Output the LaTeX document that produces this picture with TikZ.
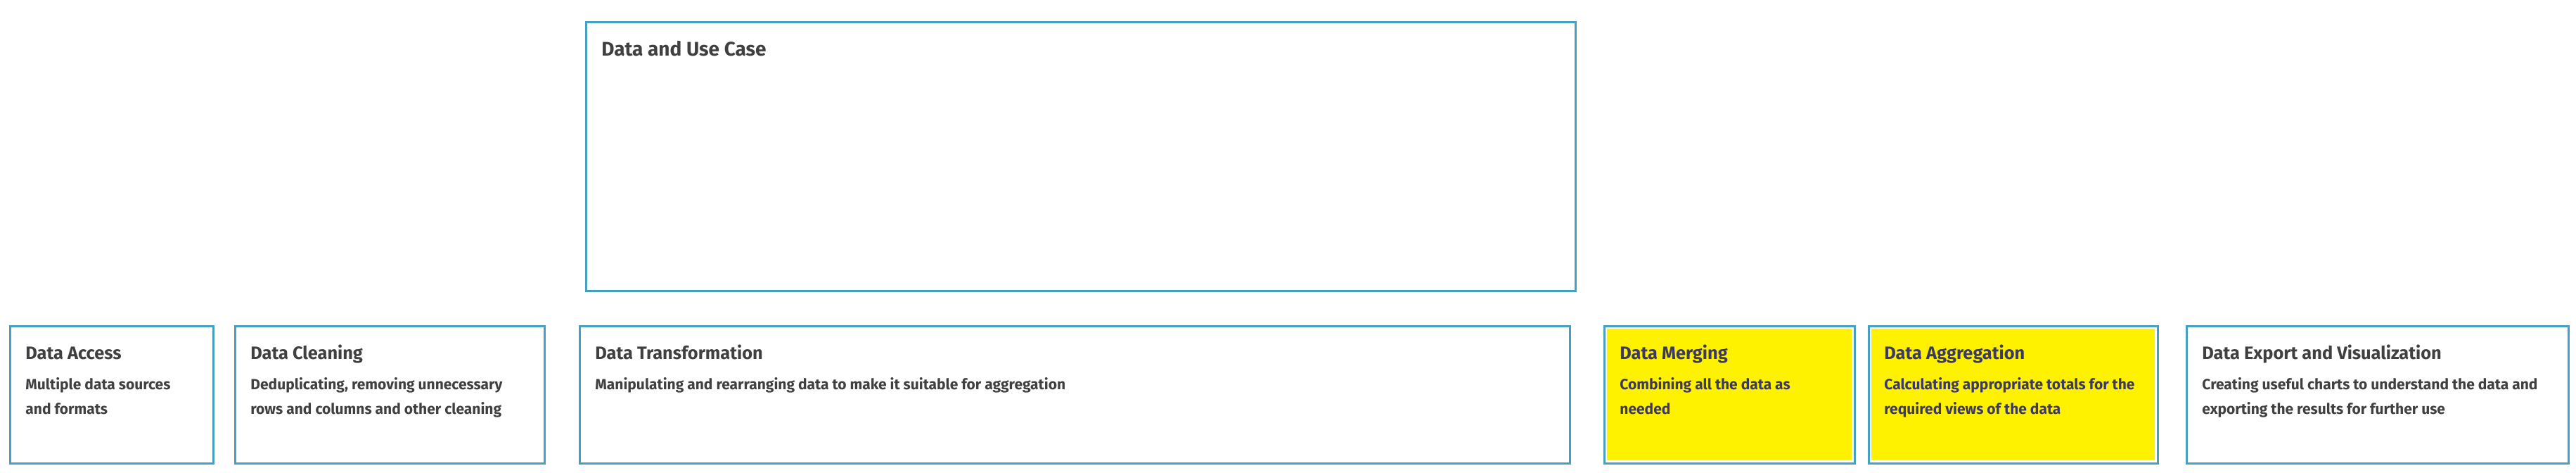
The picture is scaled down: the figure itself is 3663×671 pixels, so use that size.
\documentclass[tikz,border=0pt]{standalone}
\usepackage{fontspec}
\setmainfont{Fira Sans}
\usepackage{xcolor}
\usepackage{tikz}
\usetikzlibrary{calc, positioning}
\definecolor{bord}{RGB}{72, 160, 192}
\definecolor{hiyellow}{RGB}{255, 242, 0}
\definecolor{ink}{RGB}{64, 64, 64}
\definecolor{hiink}{RGB}{60, 58, 100}
\tikzset{
    boxnode/.style = {draw=bord, line width=1.5pt, rectangle, fill=white, inner sep=0pt, outer sep=0pt,
      anchor=north west, minimum height=97.5pt},
    yellowbox/.style = {boxnode, path picture={\fill[hiyellow] ($(path picture bounding box.south west)+(2pt,2pt)$)
      rectangle ($(path picture bounding box.north east)+(-2pt,-2pt)$);}},
    headnode/.style = {draw=none, fill=none, inner sep=0pt, anchor=base west, text=ink,
      font=\bfseries\fontsize{12.7}{15}\selectfont},
    bodynode/.style = {draw=none, fill=none, inner sep=0pt, anchor=base west, text=ink, align=left,
      font=\bfseries\fontsize{10.5}{17.5}\selectfont},
    every text node part/.style={align=left}
}

\begin{document}
\begin{tikzpicture}[x=0.5pt, y=-0.5pt]
    \useasboundingbox (0,0) rectangle (3663,671);

    \node[boxnode, name=UseCase, minimum width=703.5pt, minimum height=191pt] at (833,31) {};
    \node[headnode, font=\bfseries\fontsize{14}{16}\selectfont] at ($(UseCase.north west)+(22,48)$) {Data and Use Case};

    % two-line texts sit on the baseline of their last line
    \node[boxnode, name=Access, minimum width=144.5pt] at (14,463) {};
    \node[headnode] at ($(Access.north west)+(22,47)$) {Data Access};
    \node[bodynode] at ($(Access.north west)+(22,125)$) {Multiple data sources\\and formats};

    \node[boxnode, name=Cleaning, minimum width=220pt] at (334,463) {};
    \node[headnode] at ($(Cleaning.north west)+(22,47)$) {Data Cleaning};
    \node[bodynode] at ($(Cleaning.north west)+(22,125)$) {Deduplicating, removing unnecessary\\rows and columns and other cleaning};

    \node[boxnode, name=Transform, minimum width=704pt] at (824,463) {};
    \node[headnode] at ($(Transform.north west)+(22,47)$) {Data Transformation};
    \node[bodynode] at ($(Transform.north west)+(22,90)$) {Manipulating and rearranging data to make it suitable for aggregation};

    \node[yellowbox, name=Merging, minimum width=178pt] at (2281,463) {};
    \node[headnode, text=hiink] at ($(Merging.north west)+(22,47)$) {Data Merging};
    \node[bodynode, text=hiink] at ($(Merging.north west)+(22,125)$) {Combining all the data as\\needed};

    \node[yellowbox, name=Aggregation, minimum width=205.5pt] at (2657,463) {};
    \node[headnode, text=hiink] at ($(Aggregation.north west)+(22,47)$) {Data Aggregation};
    \node[bodynode, text=hiink] at ($(Aggregation.north west)+(22,125)$) {Calculating appropriate totals for the\\required views of the data};

    \node[boxnode, name=Export, minimum width=271.5pt] at (3109,463) {};
    \node[headnode] at ($(Export.north west)+(22,47)$) {Data Export and Visualization};
    \node[bodynode] at ($(Export.north west)+(22,125)$) {Creating useful charts to understand the data and\\exporting the results for further use};
\end{tikzpicture}
\end{document}
